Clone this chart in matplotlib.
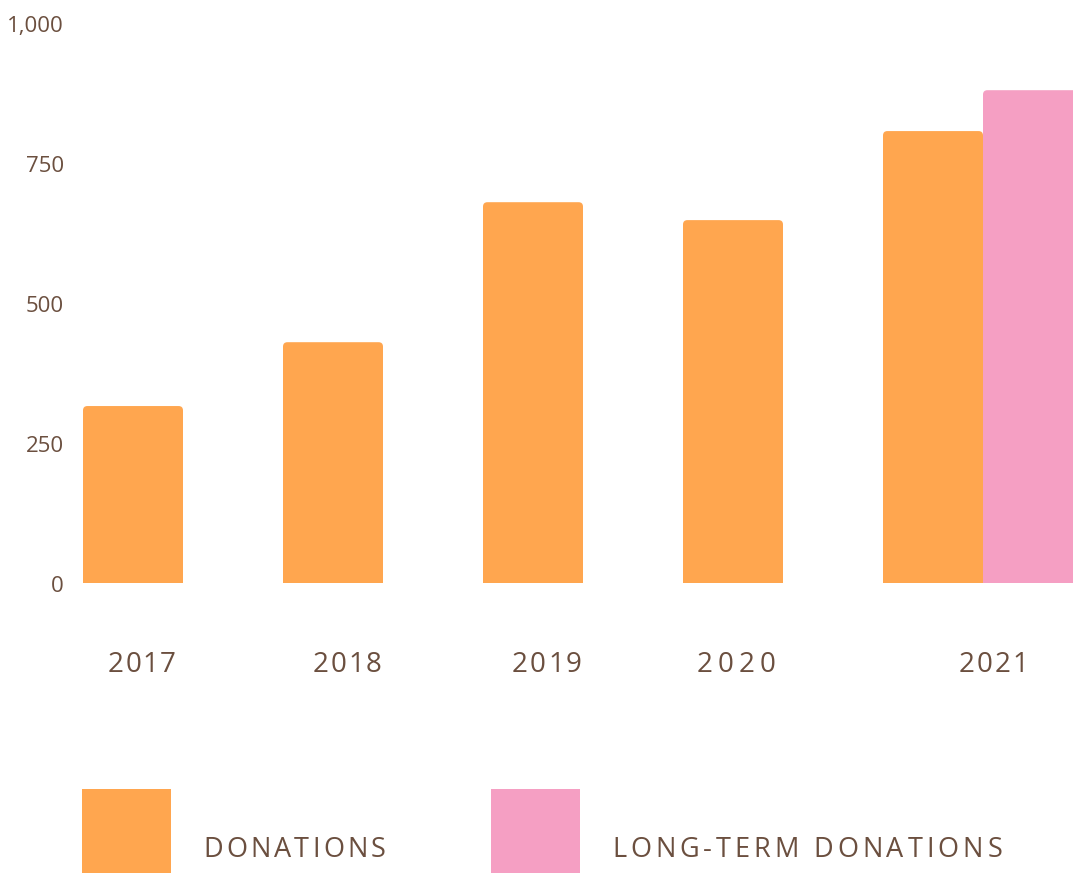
import matplotlib
matplotlib.use("Agg")
import matplotlib.pyplot as plt
from matplotlib.patches import FancyBboxPatch, Rectangle
from matplotlib.transforms import offset_copy

# data
years = ["2017", "2018", "2019", "2020", "2021"]
donations = [316, 430, 680, 648, 807]
long_term_years = ["2021"]
long_term = [880]
y_ticks = [0, 250, 500, 750, 1000]
y_tick_labels = ["0", "250", "500", "750", "1,000"]

ORANGE = "#FFA64F"
PINK = "#F59FC3"
BROWN = "#6B4F3F"
FONT = "Open Sans"

W, H = 1073, 873
fig = plt.figure(figsize=(W / 100, H / 100), dpi=100)
fig.patch.set_facecolor("white")

# axes fill the whole figure; data limits chosen so bars sit like the original
ax = fig.add_axes([0, 0, 1, 1])
ax.set_xlim(-0.665, 4.7)
ax.set_ylim(-517.86, 1041.07)
ax.axis("off")

bar_w = 0.5
xs = list(range(len(years)))


def rounded_bar(x, h, color):
    r = 0.022  # corner radius in x units
    aspect = 360  # y units per x unit (on screen)
    p = FancyBboxPatch((x - bar_w / 2, -50), bar_w, h + 50,
                       boxstyle=f"round,pad=0,rounding_size={r}",
                       mutation_aspect=aspect, facecolor=color,
                       edgecolor="none")
    ax.add_patch(p)
    clip = Rectangle((x - bar_w / 2 - 1, 0), bar_w + 2, 2000,
                     transform=ax.transData)
    p.set_clip_path(clip)


for x, v in zip(xs, donations):
    rounded_bar(x, v, ORANGE)
for yr, v in zip(long_term_years, long_term):
    rounded_bar(years.index(yr) + bar_w, v, PINK)

# y tick labels
ytrans = offset_copy(ax.get_yaxis_transform(), fig=fig, y=-9, units="dots")
for v, lab in zip(y_ticks, y_tick_labels):
    ax.text(64 / W, v, lab, transform=ytrans, ha="right", va="baseline",
            fontsize=16, fontweight="medium", color=BROWN, family=FONT)

renderer = fig.canvas.get_renderer()


def spaced_text(s, x0, x1, base_y, size):
    """draw letter-spaced text between pixel x0 and x1 (baseline at base_y, from top)"""
    items = []
    widths = []
    for ch in s:
        t = fig.text(0, 0, ch, fontsize=size, color=BROWN, family=FONT,
                     fontweight="medium", ha="left", va="baseline")
        if ch == " ":
            w = size * 100 / 72 * 0.26
        else:
            w = t.get_window_extent(renderer).width
        items.append(t)
        widths.append(w)
    gap = (x1 - x0 - sum(widths)) / max(len(s) - 1, 1)
    x = x0
    for t, w in zip(items, widths):
        t.set_position((x / W, 1 - base_y / H))
        x += w + gap


# x labels
label_spans = [(108, 176), (313, 382), (512, 582), (697, 775), (959, 1028)]
for yr, (a, b) in zip(years, label_spans):
    spaced_text(yr, a, b, 672, 20)

# legend
fig.patches.append(Rectangle((82 / W, 0), 89 / W, 84 / H, transform=fig.transFigure,
                             facecolor=ORANGE, edgecolor="none"))
fig.patches.append(Rectangle((491 / W, 0), 89 / W, 84 / H, transform=fig.transFigure,
                             facecolor=PINK, edgecolor="none"))
spaced_text("DONATIONS", 203, 386, 857, 19.5)
spaced_text("LONG-TERM DONATIONS", 612, 1002, 857, 19.5)

fig.savefig("out.png", dpi=100, facecolor="white")
